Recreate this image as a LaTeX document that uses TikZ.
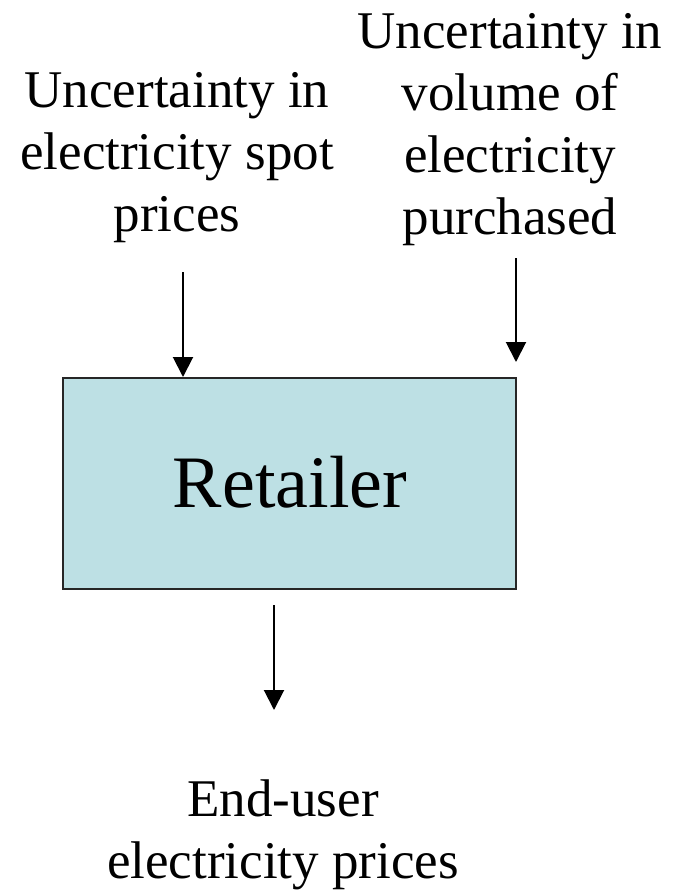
\documentclass[tikz,border=0pt]{standalone}
\usepackage{fontspec}
\setmainfont{Liberation Serif}
\usetikzlibrary{arrows.meta}
\definecolor{boxfill}{RGB}{189,224,228}
\tikzset{
  label text/.style={align=center, inner sep=0pt, font=\fontsize{53pt}{62pt}\selectfont},
  flow/.style={line width=2pt, -{Triangle[width=20pt,length=20pt]}},
  retailbox/.style={draw=black!85, line width=2pt, fill=boxfill, minimum width=453pt, minimum height=211pt, inner sep=0pt, font=\fontsize{74pt}{86pt}\selectfont}
}
\begin{document}
\begin{tikzpicture}[x=1pt,y=-1pt]
\useasboundingbox (0,0) rectangle (679,892);
% the retailer block
\node[retailbox] (ret) at (289.5,483.5) {};
\node[font=\fontsize{74pt}{86pt}\selectfont, inner sep=0pt] (retlabel) at (290,482) {Retailer};
% uncertainty sources and the outcome
\node[label text] (spot) at (177,158) {Uncertainty in\\electricity spot\\prices};
\node[label text] (vol) at (510,130) {Uncertainty in\\volume of\\electricity\\purchased};
\node[label text] (enduser) at (283,835) {End-user\\electricity prices};
% arrow end points
\coordinate (s1) at (183,272);
\coordinate (s2) at (516,258);
\coordinate (e2) at (516,362);
\coordinate (s3) at (274,605);
\coordinate (e3) at (274,710);
\draw[flow] (s1) -- (s1 |- ret.north);
\draw[flow] (s2) -- (e2);
\draw[flow] (s3) -- (e3);
\end{tikzpicture}
\end{document}
